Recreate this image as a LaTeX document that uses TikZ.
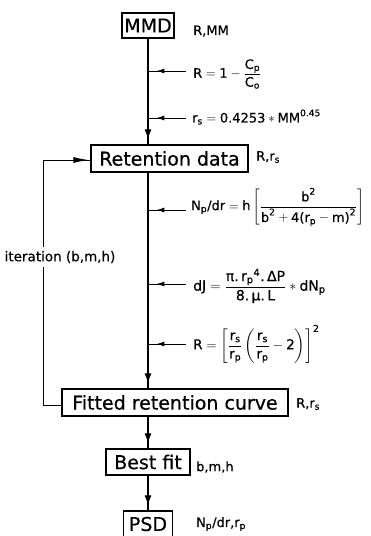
\RequirePackage{fix-cm}
\documentclass[tikz,border=0pt]{standalone}
\usepackage{fontspec}
\setmainfont{DejaVu Sans}[FakeBold=0.5]
\usepackage{amsmath}
\usetikzlibrary{arrows.meta,decorations.markings}
\newcommand{\tx}[1]{\text{#1}}
\tikzset{
  box/.style={draw, line width=1.3pt, inner sep=0pt, font=\fontsize{19}{22}\selectfont, minimum height=26pt},
  lbl/.style={anchor=west, inner sep=0pt, font=\fontsize{13}{15}\selectfont},
  mainline/.style={line width=1.1pt},
  downarrow/.style={mainline, postaction={decorate}, decoration={markings, mark=at position -5pt with {\arrow{Latex[length=10pt,width=7pt]}}}},
  eqarrow/.style={line width=1pt, postaction={decorate}, decoration={markings, mark=at position 0.78 with {\arrow{Latex[length=8pt,width=5pt]}}}},
  fbline/.style={line width=0.9pt},
  fbarrow/.style={fbline, postaction={decorate}, decoration={markings, mark=at position -2pt with {\arrow{Latex[length=15pt,width=6pt]}}}}
}
\begin{document}
\begin{tikzpicture}[x=1pt, y=-1pt]
\useasboundingbox (0,0) rectangle (370,536);
% boxes
\node[box, minimum width=52pt, minimum height=25pt] (mmd) at (148,25.5) {MMD};
\node[box, minimum width=157pt, minimum height=27pt] (ret) at (169.5,158.5) {Retention data};
\node[box, minimum width=226pt, minimum height=27pt] (fit) at (175,402.5) {Fitted retention curve};
\node[box, minimum width=84pt] (best) at (148,462) {Best fit};
\node[box, minimum width=49pt] (psd) at (148,524) {PSD};
% side labels
\node[lbl] (l1) at (193,31) {R,MM};
\node[lbl] (l2) at (256,157) {$\tx{R,r}_{\tx{s}}$};
\node[lbl] (l3) at (296,404) {$\tx{R,r}_{\tx{s}}$};
\node[lbl] (l4) at (196,467) {b,m,h};
\node[lbl] (l5) at (196,524) {$\tx{N}_{\tx{p}}\tx{/dr,r}_{\tx{p}}$};
% equations
\node[lbl] (e1) at (193,74) {$\tx{R}=\tx{1}-\dfrac{\tx{C}_{\tx{p}}}{\tx{C}_{\tx{o}}}$};
\node[lbl] (e2) at (192,117) {$\tx{r}_{\tx{s}}=\tx{0.4253}\ast\tx{MM}^{\tx{0.45}}$};
\node[lbl] (e3) at (191,207) {$\tx{N}_{\tx{p}}\tx{/dr}=\tx{h}\left[\dfrac{\tx{b}^{\tx{2}}}{\tx{b}^{\tx{2}}+\tx{4(r}_{\tx{p}}-\tx{m)}^{\tx{2}}}\right]$};
\node[lbl, font=\fontsize{14}{16}\selectfont] (e4) at (193,286) {$\tx{dJ}=\dfrac{\tx{π.\,r}_{\tx{p}}{}^{\tx{4}}\tx{.\,ΔP}}{\tx{8.\,μ.\,L}}\ast\tx{dN}_{\tx{p}}$};
\node[lbl, font=\fontsize{13.5}{15}\selectfont] (e5) at (193,344) {$\tx{R}=\left[\dfrac{\tx{r}_{\tx{s}}}{\tx{r}_{\tx{p}}}\left(\dfrac{\tx{r}_{\tx{s}}}{\tx{r}_{\tx{p}}}-\tx{2}\right)\right]^{\tx{2}}$};
% joints on main line
\coordinate (j1) at (148,71);  \coordinate (s1) at (186,71);
\coordinate (j2) at (148,118); \coordinate (s2) at (186,118);
\coordinate (j3) at (148,210); \coordinate (s3) at (186,210);
\coordinate (j4) at (148,284); \coordinate (s4) at (186,284);
\coordinate (j5) at (148,344); \coordinate (s5) at (186,344);
% main flow
\draw[downarrow] (mmd.south) -- (mmd.south |- ret.north);
\draw[downarrow] (mmd.south |- ret.south) -- (mmd.south |- fit.north);
\draw[downarrow] (mmd.south |- fit.south) -- (best.north);
\draw[downarrow] (best.south) -- (psd.north);
% equation inputs
\draw[eqarrow] (s1) -- (j1);
\draw[eqarrow] (s2) -- (j2);
\draw[eqarrow] (s3) -- (j3);
\draw[eqarrow] (s4) -- (j4);
\draw[eqarrow] (s5) -- (j5);
% feedback loop
\coordinate (fbx) at (43,0);
\node[font=\fontsize{13.5}{15}\selectfont, inner xsep=0pt, inner ysep=4pt] (iter) at (60,257) {iteration (b,m,h)};
\draw[fbline] ([yshift=-3pt]fit.west) -| (fbx |- iter.south);
\draw[fbarrow] (fbx |- iter.north) |- ([yshift=-1.5pt]ret.west);
\end{tikzpicture}
\end{document}
